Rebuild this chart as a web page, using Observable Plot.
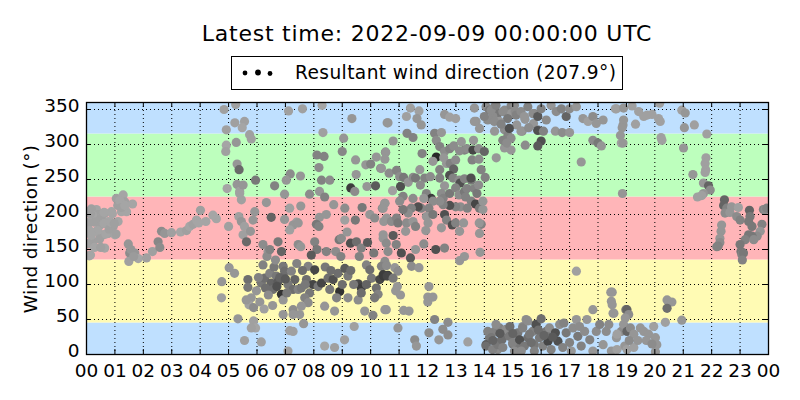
<!DOCTYPE html>
<html><head><meta charset="utf-8">
<script src="https://cdn.jsdelivr.net/npm/d3@7"></script>
<script src="https://cdn.jsdelivr.net/npm/@observablehq/plot@0.6"></script>
<style>
body{margin:0;background:#fff;font-family:"DejaVu Sans",sans-serif;color:#000;}
#wrap{position:relative;width:800px;height:400px;overflow:hidden;}
#title{position:absolute;left:0;width:854px;top:20px;text-align:center;font-size:22px;letter-spacing:0.75px;line-height:28px;white-space:nowrap;}
#legend{position:absolute;left:231px;top:56px;width:390px;height:32px;border:1px solid #000;background:#fff;}
#legend svg{position:absolute;left:0;top:0;}
#legend span{position:absolute;left:63px;top:4px;font-size:18.6px;letter-spacing:0.4px;line-height:24px;white-space:nowrap;}
#ylabel{position:absolute;left:30px;top:229px;transform:translate(-50%,-50%) rotate(-90deg);font-size:18.5px;letter-spacing:0.3px;white-space:nowrap;}
#chart{position:absolute;left:0;top:0;}
</style></head>
<body>
<div id="wrap">
  <div id="chart"></div>
  <div id="title"></div>
  <div id="legend"><svg width="60" height="32"><circle cx="13" cy="16" r="2.4" fill="#000"/><circle cx="26" cy="15.5" r="2.9" fill="#000"/><circle cx="38" cy="16.5" r="2.4" fill="#000"/></svg><span></span></div>
  <div id="ylabel"></div>
</div>
<script>
const titleText = "Latest time: 2022-09-09 00:00:00 UTC";
const legendText = "Resultant wind direction (207.9°)";
const yLabelText = "Wind direction (°)";

const hourTicks = d3.range(0, 25);
const degTicks = [0, 50, 100, 150, 200, 250, 300, 350];

// direction sectors: N, E, S, W
const bandFrom = [0, 45, 135, 225, 315];
const bandTo = [45, 135, 225, 315, 360];
const bandColor = ["#bfe0ff", "#fffbb4", "#ffb5b8", "#bdffbd", "#bfe0ff"];

// [hour, direction°, grey level]
const obsNight = [
[0.06,189,165],[0.06,178,160],[0.12,159,165],[0.14,142,165],[0.23,161,160],[0.35,207,165],[0.41,200,160],[0.35,176,165],[0.47,185,160],[0.53,195,165],[0.59,171,160],[0.64,152,165],[0.64,202,160],[0.76,190,165],[0.76,173,160],[0.88,204,165],[0.94,183,160],[1.0,171,165],[1.05,223,160],[1.11,190,165],[1.17,214,160],[1.23,204,165],[1.29,228,165],[1.35,218,160],[1.41,204,165],[1.62,215,165],[1.47,158,150],[1.52,145,140],[1.49,133,160],[1.7,145,150],[1.82,137,165],[2.11,138,160],[2.32,147,160],[2.52,161,135],[2.58,153,140],[2.64,176,140],[2.75,173,150],[2.99,174,160],[3.31,175,165],[3.52,177,160],[3.63,183,165],[3.75,186,160],[3.87,192,165],[4.01,206,160],[3.95,188,165],[4.57,194,165],
[0.07,187,160],[0.1,177,165],[0.17,208,160],[0.22,199,165],[0.28,189,160],[0.4,177,165],[0.5,194,160],[0.62,187,165],[0.46,165,160],[0.68,172,165],[0.8,179,160],[0.86,189,165],[0.98,187,160],[0.91,201,165],[1.1,213,160],[1.17,220,165],[1.23,210,160],[1.35,213,165],[1.04,172,160],[0.17,170,165],[0.05,158,160],[0.28,153,165],[0.5,153,160],[0.1,141,165],[0.14,201,160],[0.62,203,165],[1.56,150,150],[1.66,140,155],[4.2,190,165],[4.45,199,165]
];
const obsMorning = [
[5.0,183,160],[5.02,124,150],[4.76,104,150],[4.75,81,160],[5.33,51,150],[4.84,350,160],[4.92,321,160],[4.92,299,165],[4.9,290,160],[4.95,237,165],[5.22,331,160],[5.27,303,150],[5.3,272,150],[5.37,264,105],[5.3,243,150],[5.39,233,160],[5.25,357,160],[5.56,333,160],[5.48,324,165],[5.74,314,160],[5.8,308,160],[5.51,242,150],[5.95,249,120],[5.45,221,160],[5.39,230,160],[5.92,204,150],[5.36,197,160],[5.45,190,150],[5.56,183,160],[5.86,192,150],[5.51,171,160],[5.77,176,150],[5.63,161,105],[5.68,107,110],[5.21,116,150],[5.68,96,120],[5.8,81,150],[5.72,71,160],[5.88,67,140],[5.98,91,150],[5.62,78,150],[5.88,48,160],[5.95,38,165],[5.8,38,160],[5.56,20,160],[6.15,18,160],
[7.11,348,160],[7.6,351,160],[8.29,356,165],[8.32,317,160],[9.34,337,150],[9.05,309,150],[10.58,331,150],[9.0,290,135],[8.11,285,130],[8.36,283,130],[8.18,267,140],[9.47,278,150],[10.2,282,150],[10.52,289,130],[9.83,271,150],[10.0,272,130],[10.35,266,140],[9.49,257,150],[6.62,241,130],[7.17,258,140],[7.53,255,150],[7.03,249,150],[8.27,249,130],[8.56,249,140],[9.3,238,60],[9.44,233,140],[8.2,233,150],[8.38,225,130],[7.85,229,140],[6.97,229,150],[9.87,240,150],[10.17,241,90],[6.33,217,150],[7.15,209,160],[7.54,212,150],[8.7,214,150],[9.09,209,140],[9.7,210,120],[10.5,216,150],[10.41,209,140],[6.5,196,100],[6.97,193,150],[7.39,189,160],[7.27,185,150],[7.15,178,160],[7.45,188,150],[8.2,196,150],[8.44,200,150],[8.09,186,120],[8.18,183,130],[9.09,192,160],[9.46,192,120],[9.97,200,150],[10.14,195,140],[10.46,190,150],[6.21,157,140],[6.74,161,120],[6.39,147,150],[6.86,147,100],[7.45,157,140],[7.54,154,150],[8.03,161,130],[8.11,150,120],[7.91,142,90],[8.44,147,130],[8.77,147,140],[8.89,164,120],[9.29,159,80],[8.97,166,140],[9.17,175,150],[9.5,161,110],[9.67,152,130],[9.89,160,90],[10.11,145,120],[10.44,166,150],[10.55,159,140],
[6.15,102,120],[6.27,109,110],[6.45,116,130],[6.21,128,130],[6.5,102,100],[6.56,93,110],[6.68,112,120],[6.74,104,90],[6.86,86,50],[6.92,126,120],[6.97,119,110],[7.21,119,130],[7.33,107,100],[7.09,100,120],[7.27,93,110],[6.92,78,150],[7.45,93,130],[7.56,95,120],[7.74,107,110],[7.8,126,130],[8.03,121,70],[7.97,100,70],[7.85,88,120],[7.68,81,130],[7.8,74,140],[7.56,69,150],[7.27,64,140],[7.5,57,150],[7.27,57,150],[6.92,57,150],[8.15,97,120],[8.27,102,70],[8.5,109,110],[8.56,93,120],[8.68,107,80],[8.85,116,110],[8.91,90,50],[8.8,81,130],[9.09,123,90],[9.2,112,120],[9.2,81,140],[9.56,101,70],[9.67,95,60],[9.56,78,140],[9.67,88,110],[9.85,128,130],[9.97,121,110],[10.03,109,120],[9.85,100,100],[10.2,95,110],[10.26,86,130],[10.14,81,120],[10.32,107,70],[10.46,112,60],[10.61,113,60],[9.79,62,150],[10.08,56,130],[10.55,64,150],[7.15,34,160],[7.27,33,160],[7.09,5,160],[8.38,12,165],[8.73,10,160],[9.08,21,160],[9.42,40,160],[7.64,44,150],[8.38,69,150],[8.73,62,150],
[6.05,110,130],[6.3,95,110],[6.4,85,140],[6.6,125,120],[6.7,97,80],[6.8,110,100],[6.55,70,150],[6.1,75,150],[6.25,65,160],[6.65,135,140],[7.0,108,90],[7.05,88,120],[6.35,140,140],[6.45,150,130],[7.4,130,130],[7.6,120,110],[7.7,100,120],[8.4,125,120],[8.6,120,110],[9.3,120,110],[9.4,100,120],[9.0,100,110],[8.95,140,130],[9.6,140,130]
];
const obsMidday = [
[10.61,331,150],[11.26,340,160],[11.4,352,160],[11.7,348,160],[11.63,337,150],[11.78,328,150],[12.6,343,150],[12.78,339,160],[12.99,337,160],[13.65,352,150],[13.71,333,150],[13.83,323,150],[13.62,306,150],[10.79,305,150],[11.28,316,130],[11.49,310,130],[12.25,316,130],[12.49,317,150],[12.31,306,140],[12.43,297,130],[12.6,290,140],[12.78,294,130],[12.92,298,140],[13.19,304,150],[13.3,292,130],[13.13,291,140],[13.39,294,140],[13.6,292,70],[13.8,294,140],[14.0,290,100],[14.42,281,150],[10.53,289,150],[10.5,279,150],[11.81,287,130],[12.31,282,40],[12.19,276,150],[12.43,264,130],[12.57,281,150],[12.67,273,150],[12.8,273,130],[12.99,278,140],[12.92,265,100],[13.57,278,130],[13.81,279,140],[13.89,264,130],[14.03,253,130],[10.38,266,150],[10.65,259,140],[10.91,263,130],[11.02,254,140],[11.16,253,120],[11.32,246,150],[11.49,253,140],[11.58,252,120],[11.73,264,150],[11.9,252,130],[12.1,254,140],[12.43,252,130],[12.6,241,150],[12.78,256,80],[12.9,252,130],[13.11,249,140],[13.15,245,80],[13.3,251,130],[13.54,249,120],[13.53,252,80],[11.05,240,80],[10.77,234,160],[11.75,242,140],[11.96,230,130],[12.13,223,60],[12.49,230,140],[12.55,223,130],[12.78,230,120],[12.99,238,130],[13.11,228,140],[13.3,233,120],[13.39,237,130],[13.65,237,130],[13.74,230,120],[13.8,242,140],[13.34,225,130],[13.54,219,130],[13.69,215,70],[13.83,209,120],[13.95,219,150],[13.95,207,150],[13.16,211,140],[13.4,209,130],[12.99,211,130],[12.78,213,80],[12.55,214,130],[12.43,219,140],[12.19,219,140],[12.05,209,130],[11.87,223,150],[11.78,209,130],[11.67,211,80],[11.49,223,140],[11.43,209,130],[11.32,202,140],[11.14,226,130],[11.14,207,120],[11.02,219,140],[10.5,216,150],[10.44,209,150],[11.96,197,150],[12.19,200,120],[12.6,200,80],[12.67,192,130],[12.87,185,80],[12.99,188,130],[13.27,188,150],[13.13,176,150],[13.89,186,130],[13.83,173,150],[13.82,188,150],[10.56,195,150],[10.73,190,140],[10.91,195,130],[10.96,188,120],[11.26,188,140],[11.49,190,150],[11.58,183,130],[10.79,170,90],[10.44,171,150],[11.23,176,150],[12.02,188,150],[12.49,181,150],[11.94,177,150],[10.9,157,130],[10.61,147,140],[11.08,145,80],[11.58,150,150],[11.87,158,140],[12.29,150,80],[12.6,152,130],[13.3,140,150],[13.13,134,150],[13.85,146,150],[11.4,138,90],[11.44,126,140],[11.7,124,150],[10.5,133,140],[10.38,126,130],[10.56,127,140],[10.85,124,150],[10.96,119,140],[10.44,114,60],[10.58,112,70],[10.79,109,120],[10.94,97,150],[10.88,91,150],[11.05,85,150],[10.5,64,150],[11.16,63,150],[11.35,62,150],[12.05,97,150],[12.01,82,150],[12.01,75,150],[12.19,82,150],[12.25,50,130],[10.96,38,150],[12.05,31,140],[12.54,36,140],[12.72,28,140],[12.72,46,140],[11.55,21,140],[11.61,12,150],[12.4,21,150],[13.42,18,160]
];
const obsAfternoon = [
[14.06,354,140],[14.18,349,120],[14.36,354,130],[14.47,344,120],[14.3,340,140],[14.12,335,140],[14.53,333,150],[14.71,349,140],[14.94,355,130],[14.94,344,150],[15.09,347,140],[14.36,319,150],[14.71,321,140],[14.83,313,130],[14.74,304,130],[14.94,309,140],[14.94,292,150],[14.71,295,150],[15.14,328,150],[15.33,319,140],[15.43,336,150],[15.44,299,140],[15.76,344,130],[15.73,330,150],[15.88,321,140],
[14.18,24,120],[14.06,14,90],[14.36,33,130],[14.42,17,120],[14.53,38,130],[14.65,25,120],[14.47,7,140],[15.0,15,120],[15.06,29,130],[15.18,10,120],[15.35,40,140],[15.47,50,140],[15.53,24,110],[15.7,33,130],[15.82,43,140],[15.76,14,120],
[14.24,349,140],[14.41,356,130],[14.65,347,140],[14.0,340,130],[13.65,333,150],[14.35,333,140],[14.59,329,130],[14.82,337,120],[14.88,323,80],[15.06,356,140],[15.12,342,130],[15.29,347,140],[15.41,340,150],[15.53,354,130],[15.71,344,140],[15.88,340,90],[16.0,351,130],[16.18,335,140],[16.35,356,150],[16.53,347,140],[16.71,351,130],[16.88,340,100],[17.0,351,140],[17.24,354,150],[17.47,337,150],[17.65,333,160],[17.82,340,140],[17.94,330,150],[18.18,335,150],[18.65,351,160],[18.88,328,150],[15.29,319,150],[15.56,324,140],[15.88,320,80],[16.08,319,130],[16.5,319,150],[16.74,317,140],[17.0,317,150],[14.65,306,130],[14.79,302,140],[16.0,305,80],[15.88,298,90],[17.82,306,140],[18.0,302,120],[18.12,298,150],[18.82,302,160],[17.41,275,150],[18.86,230,150],
[17.24,119,160],[18.45,89,150],[18.47,76,150],[17.82,64,150],[18.53,59,150],[18.98,64,120],
[14.12,33,130],[14.24,24,120],[14.06,12,110],[14.29,7,130],[14.41,43,140],[14.47,14,120],[14.62,21,110],[14.65,10,130],[14.76,36,140],[14.88,26,120],[15.0,17,130],[15.06,5,140],[15.18,31,120],[15.24,21,80],[15.35,38,130],[15.41,12,120],[15.53,48,140],[15.59,29,120],[15.65,17,110],[15.76,5,130],[15.82,43,80],[15.94,24,120],[16.0,51,110],[16.06,12,130],[16.18,33,120],[16.29,38,140],[16.24,19,70],[16.35,7,130],[16.5,31,80],[16.59,19,80],[16.65,43,140],[16.76,10,130],[16.88,31,120],[17.0,17,130],[17.06,5,150],[17.12,38,140],[17.24,50,150],[17.29,26,120],[17.41,12,130],[17.53,33,140],[17.61,50,150],[17.71,21,130],[17.82,5,150],[17.94,33,140],[18.06,43,130],[18.18,14,150],[18.29,33,140],[18.38,43,140],[18.47,5,150],[18.65,24,150],[18.82,33,140],[18.94,12,150],
[14.3,20,100],[14.9,40,110],[15.3,5,140],[15.9,35,110],[16.4,25,90],[16.8,45,130],[17.35,40,140],[16.1,27,100],[15.0,30,100],[14.55,30,90]
];
const obsEvening = [
[18.61,351,160],[18.9,352,150],[19.2,355,160],[19.43,347,160],[19.61,340,160],[19.73,342,160],[19.9,343,160],[20.13,337,160],[20.19,333,160],[20.17,359,160],[19.32,329,160],[18.9,335,150],[18.85,324,150],[18.79,313,150],[18.88,302,150],[20.22,310,160],[20.25,306,160],[20.95,349,160],[21.07,345,150],[21.04,324,150],[21.39,328,160],[21.83,315,160],[21.01,295,150],[21.8,281,160],[21.77,273,160],[21.79,264,160],[21.77,260,160],[21.34,257,150],[21.71,245,150],[21.89,241,100],[21.95,235,140],[21.71,230,150],[21.65,227,160],[21.5,225,160],
[22.45,221,100],[22.42,213,100],[22.53,209,130],[22.47,202,140],[22.64,203,150],[22.7,211,150],[22.94,210,160],[22.88,197,140],[23.0,192,130],[23.33,206,100],[23.35,197,120],[23.3,190,120],[23.42,183,120],[23.77,186,130],[23.71,176,150],[23.6,169,140],[23.42,169,120],[23.3,171,120],[23.18,164,130],[23.48,164,140],[23.82,207,130],[23.88,207,140],[23.94,209,130],[22.33,176,150],[22.35,185,150],[22.29,166,150],[22.29,160,140],[22.23,155,130],[22.18,154,130],[23.0,157,120],[23.03,147,120],[23.06,143,130],[23.12,145,120],[23.08,135,130],
[18.5,89,150],[18.5,71,150],[18.56,59,150],[19.02,64,100],[19.08,57,140],[18.96,52,150],[18.9,43,150],[19.02,33,100],[19.14,38,140],[19.26,29,150],[19.49,38,150],[19.61,33,150],[19.78,29,150],[19.96,40,160],[20.02,24,150],[20.07,14,150],[20.37,46,160],[20.43,78,150],[20.6,75,150],[20.43,66,110],[20.95,49,150],[18.67,29,160],[18.67,7,160],[19.26,10,160],[19.02,7,160],[20.02,4,150],[19.4,20,150],[19.7,20,150],[19.9,15,140],[19.1,20,140]
];

const observations = [...obsNight, ...obsMorning, ...obsMidday, ...obsAfternoon, ...obsEvening]
  .map(([hour, dir, grey]) => ({hour, dir, fill: `rgb(${grey},${grey},${grey})`}));
const bands = bandFrom.map((from, i) => ({from, to: bandTo[i], color: bandColor[i]}));

document.getElementById("title").textContent = titleText;
document.querySelector("#legend span").textContent = legendText;
document.getElementById("ylabel").textContent = yLabelText;

const W = 800, H = 400, mL = 86, mR = 32, mT = 102, mB = 46;
const innerW = W - mL - mR, innerH = H - mT - mB, tick = 5;
const fmtHour = d => String(d % 24).padStart(2, "0");

const chart = Plot.plot({
  width: W, height: H,
  marginLeft: mL, marginRight: mR, marginTop: mT, marginBottom: mB,
  style: {fontFamily: "DejaVu Sans, sans-serif", fontSize: "18px", color: "#000", background: "transparent", overflow: "visible"},
  x: {domain: [0, 24]},
  y: {domain: [0, 360]},
  color: {type: "identity"},
  marks: [
    Plot.rect(bands, {y1: "from", y2: "to", fill: "color"}),
    Plot.ruleX(hourTicks, {x: d => d, stroke: "#000", strokeWidth: 1, strokeDasharray: "1,3"}),
    Plot.ruleY(degTicks, {y: d => d, stroke: "#000", strokeWidth: 1, strokeDasharray: "1,3"}),
    Plot.dot(observations, {x: "hour", y: "dir", r: 4.6, fill: "fill", stroke: null, clip: true}),
    Plot.ruleX(hourTicks, {x: d => d, insetTop: innerH - tick, stroke: "#000"}),
    Plot.ruleX(hourTicks, {x: d => d, insetBottom: innerH - tick, stroke: "#000"}),
    Plot.ruleY(degTicks, {y: d => d, insetRight: innerW - tick, stroke: "#000"}),
    Plot.ruleY(degTicks, {y: d => d, insetLeft: innerW - tick, stroke: "#000"}),
    Plot.frame({stroke: "#000", strokeWidth: 1.3}),
    Plot.axisX({ticks: hourTicks, tickSize: 0, tickPadding: 9, tickFormat: fmtHour, label: null, fontSize: 18.5}),
    Plot.axisY({ticks: degTicks, tickSize: 0, tickPadding: 7, label: null, fontSize: 18.5, dy: -3})
  ]
});
document.getElementById("chart").appendChild(chart);
</script>
</body></html>
